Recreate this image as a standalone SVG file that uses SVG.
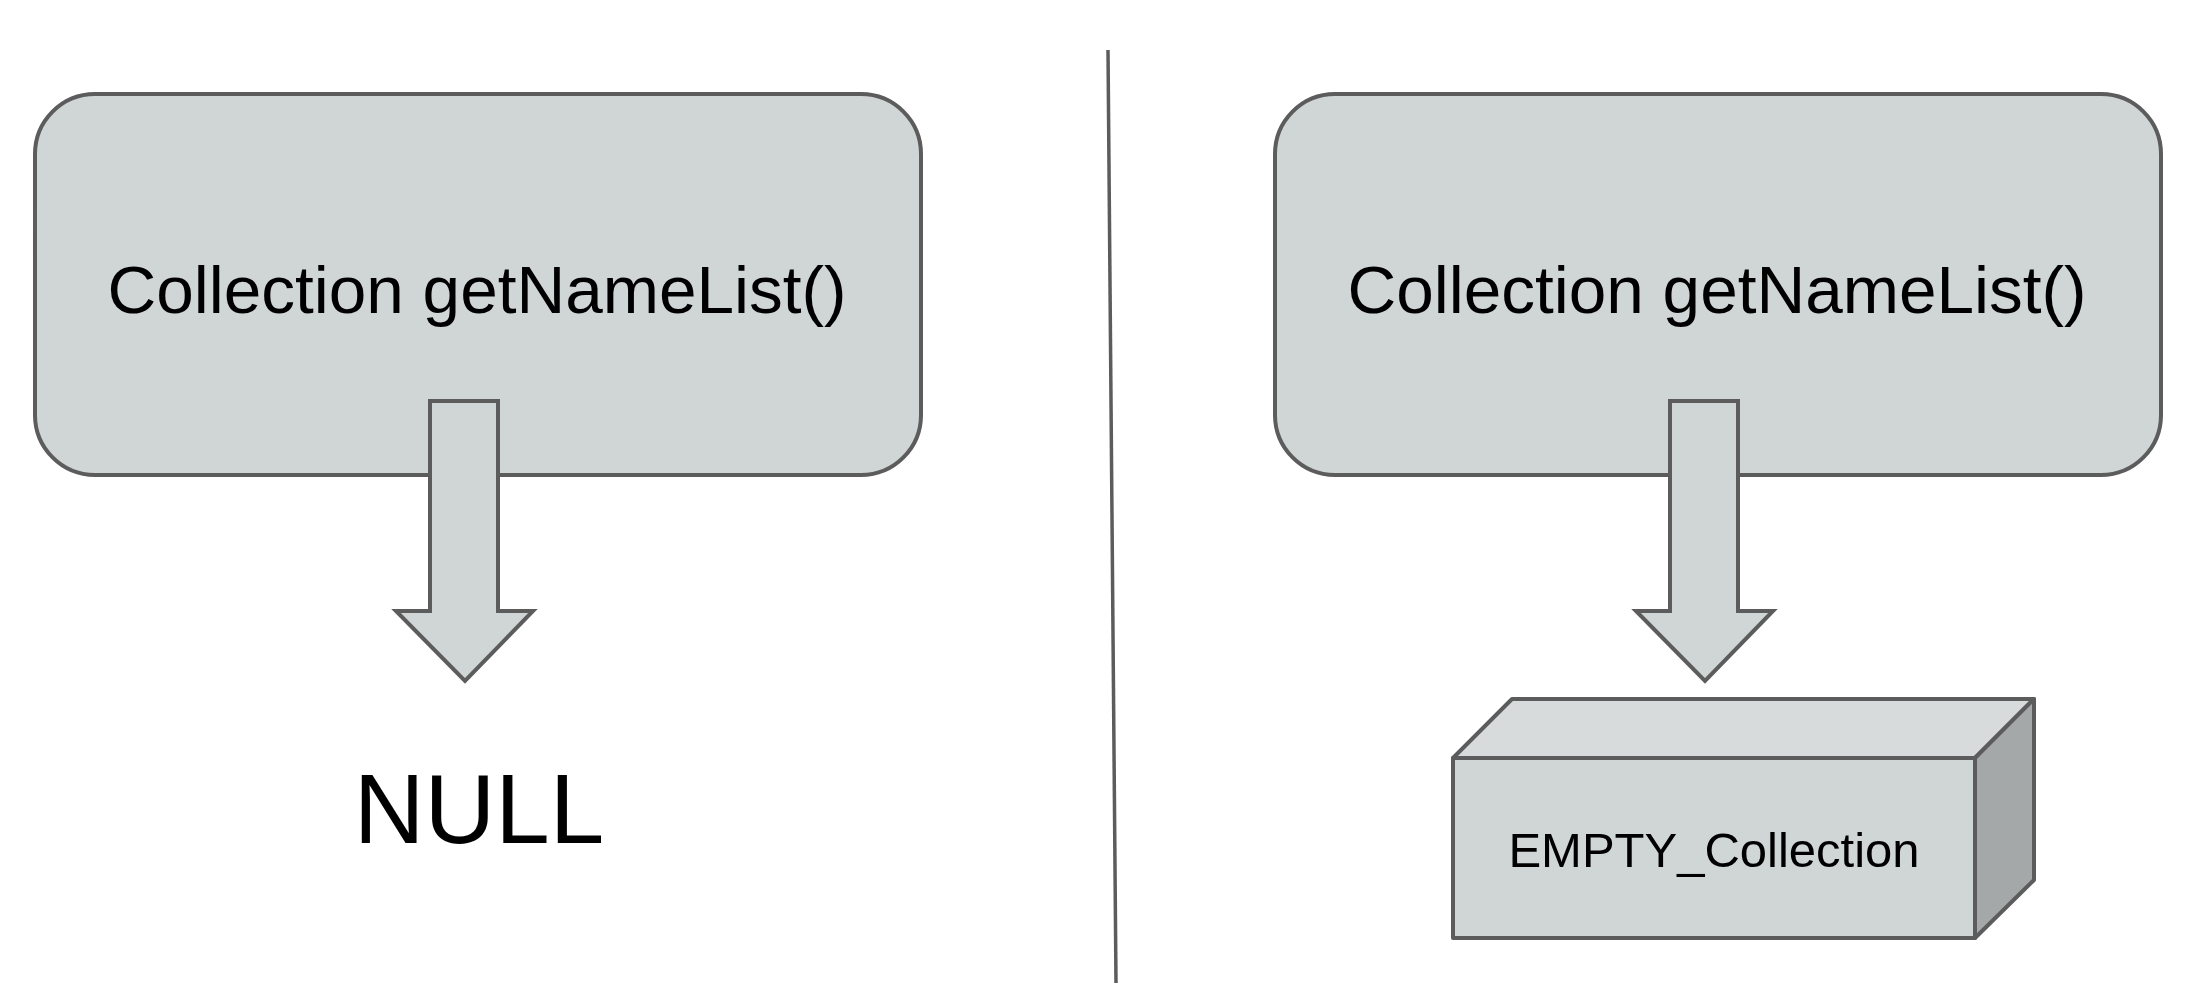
<svg xmlns="http://www.w3.org/2000/svg" width="2212" height="994" viewBox="0 0 2212 994">
<style>
.shape{fill:#d0d5d6;stroke:#5c5c5c;stroke-width:4;stroke-linejoin:miter}
.box3d{stroke:#5c5c5c;stroke-width:4;stroke-linejoin:round}
.top{fill:#d7dbdc}
.side{fill:#a5a8a9}
.front{fill:#d0d5d6}
.lbl{font-family:"Liberation Sans",Arial,sans-serif;fill:#000;text-anchor:middle}
</style>
<rect width="2212" height="994" fill="#ffffff"/>
<g id="divider">
<line x1="1108" y1="50" x2="1116" y2="983" stroke="#5c5c5c" stroke-width="3.5"/>
</g>
<g id="left-method">
<rect class="shape" x="35" y="94" width="886" height="381" rx="60" ry="60"/>
<text class="lbl" x="477" y="313" font-size="67.5">Collection getNameList()</text>
</g>
<g id="right-method">
<rect class="shape" x="1275" y="94" width="886" height="381" rx="60" ry="60"/>
<text class="lbl" x="1717" y="313" font-size="67.5">Collection getNameList()</text>
</g>
<g id="connectors">
<polygon class="shape" points="430,401 498,401 498,611 533,611 465,681 396,611 430,611"/>
<polygon class="shape" points="1670,401 1738,401 1738,611 1773,611 1705,681 1636,611 1670,611"/>
</g>
<g id="null-result">
<text class="lbl" x="479" y="843" font-size="98">NULL</text>
</g>
<g id="empty-collection">
<polygon class="box3d top" points="1453,758 1512,699 2034,699 1975,758"/>
<polygon class="box3d side" points="1975,758 2034,699 2034,880 1975,938"/>
<rect class="box3d front" x="1453" y="758" width="522" height="180"/>
<text class="lbl" x="1714" y="867" font-size="49">EMPTY_Collection</text>
</g>
</svg>
